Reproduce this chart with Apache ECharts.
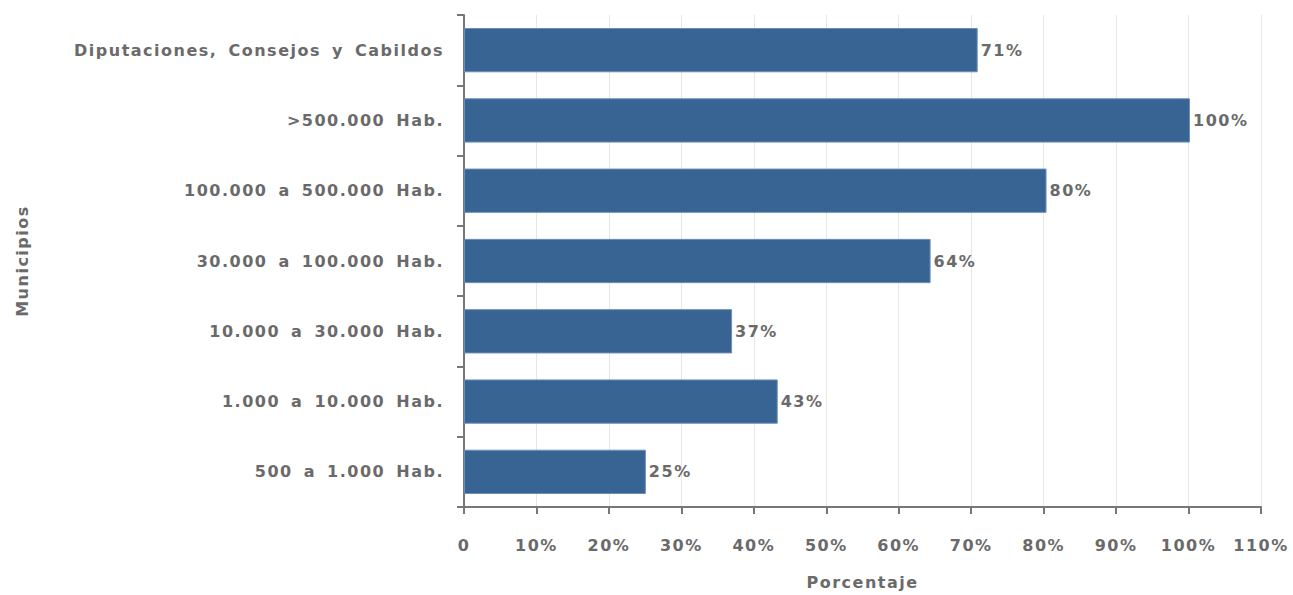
<!DOCTYPE html>
<html><head><meta charset="utf-8">
<script src="https://cdn.jsdelivr.net/npm/echarts@6/dist/echarts.min.js"></script>
<style>html,body{margin:0;padding:0;background:#fff}#c{width:1293px;height:595px}
#c text{letter-spacing:1.5px;word-spacing:4px}</style>
</head><body><div id="c"></div>
<script>
var categories = ["Diputaciones, Consejos y Cabildos", ">500.000 Hab.", "100.000 a 500.000 Hab.", "30.000 a 100.000 Hab.", "10.000 a 30.000 Hab.", "1.000 a 10.000 Hab.", "500 a 1.000 Hab."];
var values = [70.9, 100.2, 80.4, 64.4, 37.0, 43.3, 25.1];
var xTicks = {min: 0, max: 110, interval: 10};
var fontFam = '"DejaVu Sans", sans-serif';
var grey = '#6a6a6a';
var fs = 16;
var chart = echarts.init(document.getElementById('c'), null, {renderer: 'svg'});
chart.setOption({
  animation: false,
  grid: {left: 464, right: 32, top: 15, bottom: 88, containLabel: false},
  xAxis: {
    type: 'value', min: xTicks.min, max: xTicks.max, interval: xTicks.interval,
    name: 'Porcentaje', nameLocation: 'middle', nameGap: 67,
    nameTextStyle: {color: grey, fontFamily: fontFam, fontWeight: 'bold', fontSize: fs},
    axisLine: {show: true, lineStyle: {color: '#777', width: 2}},
    axisTick: {show: true, length: 7, lineStyle: {color: '#777', width: 2}},
    axisLabel: {color: grey, fontFamily: fontFam, fontWeight: 'bold', fontSize: fs, margin: 30,
      formatter: function (v) { return v === 0 ? '0' : v + '%'; }},
    splitLine: {show: true, lineStyle: {color: '#e6e6e6', width: 1}}
  },
  yAxis: {
    type: 'category', data: categories, inverse: true,
    name: 'Municipios', nameLocation: 'middle', nameGap: 434,
    nameTextStyle: {color: grey, fontFamily: fontFam, fontWeight: 'bold', fontSize: fs},
    axisLine: {show: true, lineStyle: {color: '#777', width: 2}},
    axisTick: {show: true, length: 7, lineStyle: {color: '#777', width: 2}},
    axisLabel: {color: grey, fontFamily: fontFam, fontWeight: 'bold', fontSize: fs, margin: 20}
  },
  series: [{
    type: 'bar', data: values, barWidth: '63%',
    itemStyle: {color: '#386494', borderColor: '#6a8fbb', borderWidth: 1},
    label: {show: true, position: 'right', distance: 3, color: grey, fontFamily: fontFam,
      fontWeight: 'bold', fontSize: fs,
      formatter: function (p) { return Math.round(p.value) + '%'; }}
  }]
});
</script></body></html>
